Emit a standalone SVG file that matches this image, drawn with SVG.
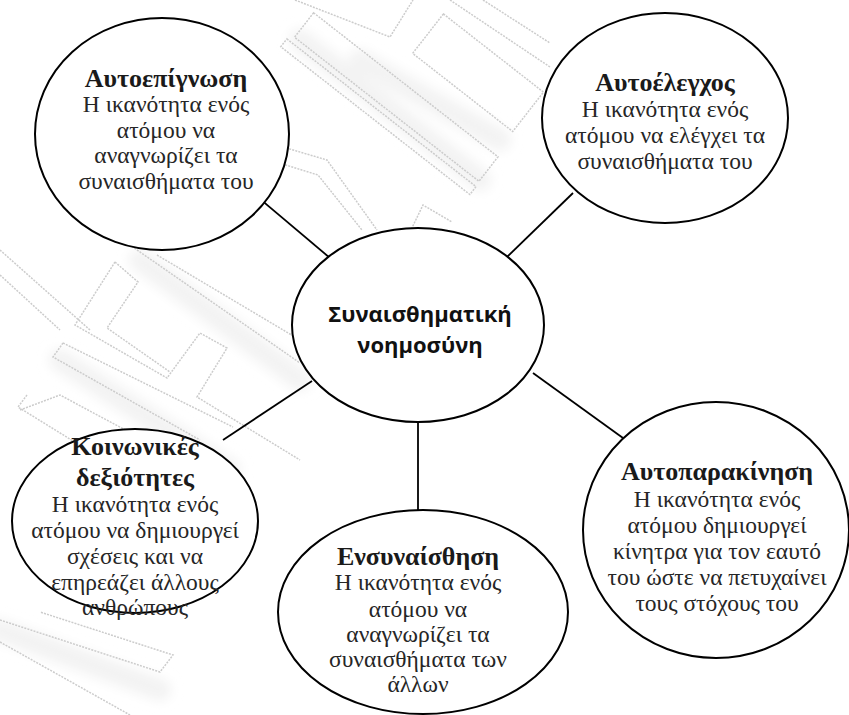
<svg xmlns="http://www.w3.org/2000/svg" width="849" height="715" viewBox="0 0 849 715">
  <defs>
    <filter id="soft" x="-20%" y="-20%" width="140%" height="140%">
      <feGaussianBlur stdDeviation="6"/>
    </filter>
    <style>
      .wm { fill: none; stroke: #cccccc; stroke-width: 1.5; stroke-dasharray: 2 1.2; }
      .haze { fill: none; stroke: #f3f3f3; stroke-width: 22; stroke-linecap: round; }
      .bubble { fill: #ffffff; stroke: #000000; stroke-width: 2; }
      .link { stroke: #000000; stroke-width: 1.8; fill: none; }
      .title { font-family: "Liberation Serif", "DejaVu Serif", serif; font-weight: bold; font-size: 26px; fill: #1a1a1a; text-anchor: middle; }
      .body { font-family: "Liberation Serif", "DejaVu Serif", serif; font-size: 23.5px; fill: #262626; text-anchor: middle; }
      .core { font-family: "Open Sans", "Noto Sans", sans-serif; font-weight: bold; font-size: 22px; fill: #111111; text-anchor: middle; }
    </style>
  </defs>

  <rect width="849" height="715" fill="#ffffff"/>

  <!-- faint background sketch -->
  <g id="background-sketch">
    <g filter="url(#soft)">
      <path class="haze" d="M300 40 L480 180"/>
      <path class="haze" d="M360 60 L500 140"/>
      <path class="haze" d="M140 260 L300 380"/>
      <path class="haze" d="M60 360 L230 470"/>
      <path class="haze" d="M0 630 L160 690"/>
    </g>
    <g transform="rotate(38)">
      <rect class="wm" x="255" y="-183" width="234" height="31"/>
      <rect class="wm" x="250" y="-146" width="240" height="10"/>
      <rect class="wm" x="358" y="-262" width="127" height="50"/>
    </g>
    <polyline class="wm" points="295,0 390,37 413,0"/>
    <polyline class="wm" points="450,0 550,67"/>
    <polyline class="wm" points="483,0 550,43"/>
    <polyline class="wm" points="283,147 327,160 377,230"/>
    <polyline class="wm" points="276,162 318,175 362,230"/>
    <polyline class="wm" points="410,232 423,205 452,222"/>
    <polyline class="wm" points="157,230 127,243 300,363"/>
    <polyline class="wm" points="157,255 300,340"/>
    <polyline class="wm" points="115,262 75,325 167,378 200,333 227,348 197,397 300,460"/>
    <polyline class="wm" points="115,262 138,282 107,328 170,372"/>
    <polyline class="wm" points="63,343 53,357 200,440"/>
    <polyline class="wm" points="63,343 233,427"/>
    <polyline class="wm" points="27,395 18,407 120,470"/>
    <polyline class="wm" points="20,410 60,395 200,470"/>
    <polyline class="wm" points="0,620 160,672 173,655 40,612"/>
    <polyline class="wm" points="0,642 130,715"/>
    <polyline class="wm" points="0,250 90,330"/>
    <polyline class="wm" points="0,275 60,330"/>
  </g>

  <!-- spokes from the centre to each skill -->
  <g id="connectors">
    <line class="link" x1="253" y1="193" x2="330" y2="258"/>
    <line class="link" x1="573" y1="193" x2="507" y2="257"/>
    <line class="link" x1="533" y1="373" x2="623" y2="438"/>
    <line class="link" x1="418" y1="420" x2="418" y2="512"/>
    <line class="link" x1="312" y1="381" x2="223" y2="440"/>
  </g>

  <g id="node-self-awareness">
    <ellipse class="bubble" cx="162" cy="134" rx="127" ry="116"/>
    <text class="title" x="166" y="87">Αυτοεπίγνωση</text>
    <text class="body" x="166" y="112">Η ικανότητα ενός</text>
    <text class="body" x="166" y="138">ατόμου να</text>
    <text class="body" x="166" y="163">αναγνωρίζει τα</text>
    <text class="body" x="166" y="189">συναισθήματα του</text>
  </g>

  <g id="node-self-control">
    <ellipse class="bubble" cx="665" cy="118" rx="123" ry="105"/>
    <text class="title" x="665" y="91">Αυτοέλεγχος</text>
    <text class="body" x="665" y="117">Η ικανότητα ενός</text>
    <text class="body" x="665" y="143">ατόμου να ελέγχει τα</text>
    <text class="body" x="665" y="169">συναισθήματα του</text>
  </g>

  <g id="node-core">
    <ellipse class="bubble" cx="418" cy="325" rx="126" ry="97"/>
    <text class="core" x="420" y="322">Συναισθηματική</text>
    <text class="core" x="420" y="353">νοημοσύνη</text>
  </g>

  <g id="node-social-skills">
    <ellipse class="bubble" cx="135" cy="521" rx="123" ry="92"/>
    <text class="title" x="135" y="455">Κοινωνικές</text>
    <text class="title" x="135" y="486">δεξιότητες</text>
    <text class="body" x="135" y="512">Η ικανότητα ενός</text>
    <text class="body" x="135" y="538">ατόμου να δημιουργεί</text>
    <text class="body" x="135" y="564">σχέσεις και να</text>
    <text class="body" x="135" y="590">επηρεάζει άλλους</text>
    <text class="body" x="135" y="615">ανθρώπους</text>
  </g>

  <g id="node-empathy">
    <ellipse class="bubble" cx="423" cy="612" rx="145" ry="102"/>
    <text class="title" x="418" y="565">Ενσυναίσθηση</text>
    <text class="body" x="418" y="590">Η ικανότητα ενός</text>
    <text class="body" x="418" y="617">ατόμου να</text>
    <text class="body" x="418" y="642">αναγνωρίζει τα</text>
    <text class="body" x="418" y="667">συναισθήματα των</text>
    <text class="body" x="418" y="692">άλλων</text>
  </g>

  <g id="node-self-motivation">
    <ellipse class="bubble" cx="716" cy="530" rx="133" ry="128"/>
    <text class="title" x="717" y="480">Αυτοπαρακίνηση</text>
    <text class="body" x="717" y="507">Η ικανότητα ενός</text>
    <text class="body" x="717" y="533">ατόμου δημιουργεί</text>
    <text class="body" x="717" y="559">κίνητρα για τον εαυτό</text>
    <text class="body" x="717" y="585">του ώστε να πετυχαίνει</text>
    <text class="body" x="717" y="611">τους στόχους του</text>
  </g>
</svg>
